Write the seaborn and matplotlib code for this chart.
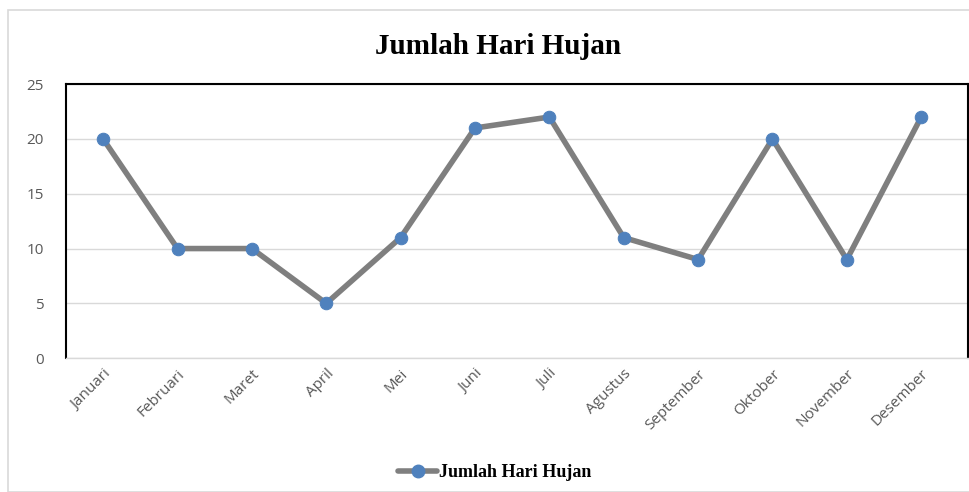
import pandas as pd
import seaborn as sns
import matplotlib.pyplot as plt
from matplotlib.patches import Rectangle
from matplotlib.lines import Line2D

bulan = ['Januari', 'Februari', 'Maret', 'April', 'Mei', 'Juni', 'Juli',
         'Agustus', 'September', 'Oktober', 'November', 'Desember']
hari_hujan = [20, 10, 10, 5, 11, 21, 22, 11, 9, 20, 9, 22]
y_ticks = [0, 5, 10, 15, 20, 25]

df = pd.DataFrame({'Bulan': bulan, 'Hari': hari_hujan})
df['pos'] = range(len(df))

sns.set_style('white')
plt.rcParams['font.family'] = ['Open Sans', 'DejaVu Sans']

fig = plt.figure(figsize=(9.7, 4.92), dpi=100)
ax = fig.add_axes([0.068, 0.272, 0.93, 0.557])

# bingkai luar
fig.patches.append(Rectangle((8 / 970, 0), 1 - 8 / 970, 1 - 10 / 492,
                             transform=fig.transFigure, fill=False,
                             edgecolor='#d9d9d9', linewidth=1.2))

# Garis data
sns.lineplot(data=df, x='pos', y='Hari', ax=ax, color='#7f7f7f', linewidth=4,
             marker='o', markersize=9, markerfacecolor='#4f81bd',
             markeredgecolor='#4f81bd', zorder=3)

ax.set_xlim(-0.5, 11.63)
ax.set_ylim(0, 25)
ax.set_yticks(y_ticks)
ax.set_xticks(df['pos'])
ax.set_xticklabels(bulan, rotation=45, ha='right', rotation_mode='anchor',
                   color='#595959', fontsize=11)
ax.tick_params(axis='y', colors='#595959', labelsize=11, length=0, pad=16)
ax.tick_params(axis='x', length=0, pad=6)
ax.yaxis.grid(True, color='#d9d9d9', linewidth=1)
ax.set_xlabel('')
ax.set_ylabel('')

for s in ['top', 'left', 'right']:
    ax.spines[s].set_color('black')
    ax.spines[s].set_linewidth(1.5)
ax.spines['bottom'].set_color('#d9d9d9')
ax.spines['bottom'].set_linewidth(1)

fig.text(0.513, 0.905, 'Jumlah Hari Hujan', ha='center', va='center', color='black',
         fontsize=21, fontweight='bold', family='Liberation Serif')

handle = Line2D([], [], color='#7f7f7f', linewidth=4, marker='o',
                markersize=9, markerfacecolor='#4f81bd', markeredgecolor='#4f81bd')
fig.legend([handle], ['Jumlah Hari Hujan'], loc='center', bbox_to_anchor=(0.51, 0.04),
           frameon=False, handlelength=2.2, handletextpad=0.1, labelcolor='black',
           prop={'family': 'Liberation Serif', 'weight': 'bold', 'size': 13})

plt.savefig('out.png', dpi=100)
